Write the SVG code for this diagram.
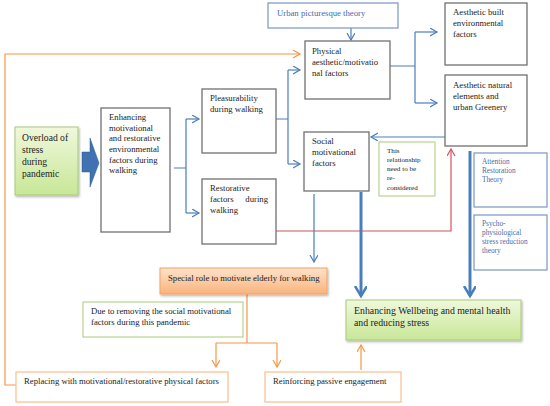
<svg xmlns="http://www.w3.org/2000/svg" width="550" height="406" viewBox="0 0 550 406">
<defs>
<style>
text{font-family:"Liberation Serif","DejaVu Serif",serif;fill:#222;font-size:8.7px}
.gb{fill:#fff;stroke:#707070;stroke-width:1.3}
.bb{fill:#fff;stroke:#7b96c4;stroke-width:1.2}
.grb{fill:#fff;stroke:#b9d48e;stroke-width:1.2}
.ob{fill:#fff;stroke:#f9bf8f;stroke-width:1.2}
.bt{fill:#4a6aaa}
.th{font-size:7.3px}
.rt{font-size:7.1px}
.bl{fill:none;stroke:#4a7ebb;stroke-width:1.2}
.blt{fill:none;stroke:#4a7ebb;stroke-width:3}
.ol{fill:none;stroke:#f79646;stroke-width:1.2}
.rl{fill:none;stroke:#d0575a;stroke-width:1.2}
</style>
<marker id="mb" markerWidth="10" markerHeight="10" refX="7" refY="4" orient="auto" markerUnits="userSpaceOnUse"><path d="M0,0 L7,4 L0,8" fill="none" stroke="#4a7ebb" stroke-width="1.2"/></marker>
<marker id="mbt" markerWidth="14" markerHeight="14" refX="10" refY="6" orient="auto" markerUnits="userSpaceOnUse"><path d="M0,0 L10,6 L0,12" fill="none" stroke="#4a7ebb" stroke-width="2.5"/></marker>
<marker id="mo" markerWidth="10" markerHeight="10" refX="7" refY="4" orient="auto" markerUnits="userSpaceOnUse"><path d="M0,0 L7,4 L0,8" fill="none" stroke="#f79646" stroke-width="1.2"/></marker>
<marker id="mr" markerWidth="10" markerHeight="10" refX="7" refY="4" orient="auto" markerUnits="userSpaceOnUse"><path d="M0,0 L7,4 L0,8" fill="none" stroke="#d0575a" stroke-width="1.2"/></marker>
<linearGradient id="gg" x1="0" y1="0" x2="0" y2="1"><stop offset="0" stop-color="#eff8dc"/><stop offset="1" stop-color="#c8e796"/></linearGradient>
<linearGradient id="og" x1="0" y1="0" x2="0" y2="1"><stop offset="0" stop-color="#fde3cc"/><stop offset="1" stop-color="#f9b37c"/></linearGradient>
<filter id="sh" x="-10%" y="-10%" width="130%" height="140%"><feDropShadow dx="1" dy="1.5" stdDeviation="1" flood-color="#000" flood-opacity="0.3"/></filter>
</defs>

<g id="connectors">
<path class="ol" d="M16,385 H5 V54 H300" marker-end="url(#mo)"/>
<path class="bl" d="M351,28 V40" marker-end="url(#mb)"/>
<path class="bl" d="M390,66 H415 M415,32 V103"/>
<path class="bl" d="M415,32 H437" marker-end="url(#mb)"/>
<path class="bl" d="M415,103 H437" marker-end="url(#mb)"/>
<path class="bl" d="M174,168 H186 M186,119 V213"/>
<path class="bl" d="M186,119 H199" marker-end="url(#mb)"/>
<path class="bl" d="M186,213 H199" marker-end="url(#mb)"/>
<path class="bl" d="M276,119 H288 M288,70 V164"/>
<path class="bl" d="M288,70 H300" marker-end="url(#mb)"/>
<path class="bl" d="M288,164 H300" marker-end="url(#mb)"/>
<path class="bl" d="M445,137 H371" marker-end="url(#mb)"/>
<path class="rl" d="M276,231 H451 V149" marker-end="url(#mr)"/>
<path class="bl" d="M314,194 V262" marker-end="url(#mb)"/>
<path class="blt" d="M361,192 V296" marker-end="url(#mbt)"/>
<path class="blt" d="M470,151 V296" marker-end="url(#mbt)"/>
<path class="ol" d="M247,294 V343 M216,343 H277"/>
<path class="ol" d="M216,343 V367" marker-end="url(#mo)"/>
<path class="ol" d="M277,343 V367" marker-end="url(#mo)"/>
<path class="ol" d="M361,370 V345" marker-end="url(#mo)"/>
</g>

<g id="urban"><rect class="bb" x="268" y="3" width="130" height="25"/><text class="bt" x="277" y="16">Urban picturesque theory</text></g>

<g id="physical"><rect class="gb" x="305" y="41" width="85" height="58"/><text x="312" y="54">Physical</text><text x="312" y="65">aesthetic/motivatio</text><text x="312" y="76">nal factors</text></g>

<g id="built"><rect class="gb" x="445" y="3" width="82" height="62"/><text x="453" y="15">Aesthetic built</text><text x="453" y="26">environmental</text><text x="453" y="37">factors</text></g>

<g id="natural"><rect class="gb" x="445" y="75" width="82" height="71"/><text x="453" y="88">Aesthetic natural</text><text x="453" y="99">elements and</text><text x="453" y="110">urban Greenery</text></g>

<g id="overload"><rect x="15" y="127" width="63" height="68" fill="url(#gg)" stroke="#a9c97a" stroke-width="1" filter="url(#sh)"/><text x="22" y="141" style="font-size:9.6px">Overload of</text><text x="22" y="153" style="font-size:9.6px">stress</text><text x="22" y="165" style="font-size:9.6px">during</text><text x="22" y="177" style="font-size:9.6px">pandemic</text></g>

<g id="bigarrow"><path d="M82,152 H90 V138 L99,163 L90,187 V172 H82 Z" fill="#3f72b0" stroke="#2e5a8e" stroke-width="0.5"/></g>

<g id="enhancing"><rect class="gb" x="101" y="108" width="69" height="124"/><text x="109" y="120">Enhancing</text><text x="109" y="131">motivational</text><text x="109" y="141">and restorative</text><text x="109" y="152">environmental</text><text x="109" y="163">factors during</text><text x="109" y="173">walking</text></g>

<g id="pleasurability"><rect class="gb" x="202" y="89" width="74" height="64"/><text x="210" y="101">Pleasurability</text><text x="210" y="112">during walking</text></g>

<g id="restorative"><rect class="gb" x="202" y="179" width="74" height="65"/><text x="210" y="191">Restorative</text><text x="210" y="202">factors</text><text x="268" y="202" text-anchor="end">during</text><text x="210" y="213">walking</text></g>

<g id="social"><rect class="gb" x="304" y="132" width="65" height="59"/><text x="312" y="144">Social</text><text x="312" y="155">motivational</text><text x="312" y="166">factors</text></g>

<g id="relationship"><rect class="grb" x="379" y="142" width="56" height="54"/><text class="rt" x="387" y="153">This</text><text class="rt" x="387" y="162">relationship</text><text class="rt" x="387" y="171">need to be</text><text class="rt" x="387" y="180">re-</text><text class="rt" x="387" y="190">considered</text></g>

<g id="attention"><rect class="bb" x="474" y="153" width="73" height="54"/><text class="bt th" x="482" y="164">Attention</text><text class="bt th" x="482" y="173">Restoration</text><text class="bt th" x="482" y="182">Theory</text></g>

<g id="psycho"><rect class="bb" x="474" y="215" width="73" height="55"/><text class="bt th" x="482" y="226">Psycho-</text><text class="bt th" x="482" y="235">physiological</text><text class="bt th" x="482" y="244">stress reduction</text><text class="bt th" x="482" y="253">theory</text></g>

<g id="special"><rect x="160" y="268" width="167" height="26" fill="url(#og)" stroke="#f6a362" stroke-width="1" filter="url(#sh)"/><text x="168" y="281">Special role to motivate elderly for walking</text></g>

<g id="due"><rect class="grb" x="83" y="302" width="160" height="35"/><text x="91" y="314">Due to removing the social motivational</text><text x="91" y="325">factors during this pandemic</text></g>

<g id="replacing"><rect class="ob" x="16" y="372" width="212" height="30"/><text x="24" y="384">Replacing with motivational/restorative physical factors</text></g>

<g id="reinforcing"><rect class="ob" x="265" y="372" width="136" height="30"/><text x="273" y="384">Reinforcing passive engagement</text></g>

<g id="wellbeing"><rect x="346" y="300" width="175" height="40" fill="url(#gg)" stroke="#a9c97a" stroke-width="1" filter="url(#sh)"/><text x="354" y="314" style="font-size:9.8px">Enhancing Wellbeing and mental health</text><text x="354" y="326" style="font-size:9.8px">and reducing stress</text></g>
</svg>
